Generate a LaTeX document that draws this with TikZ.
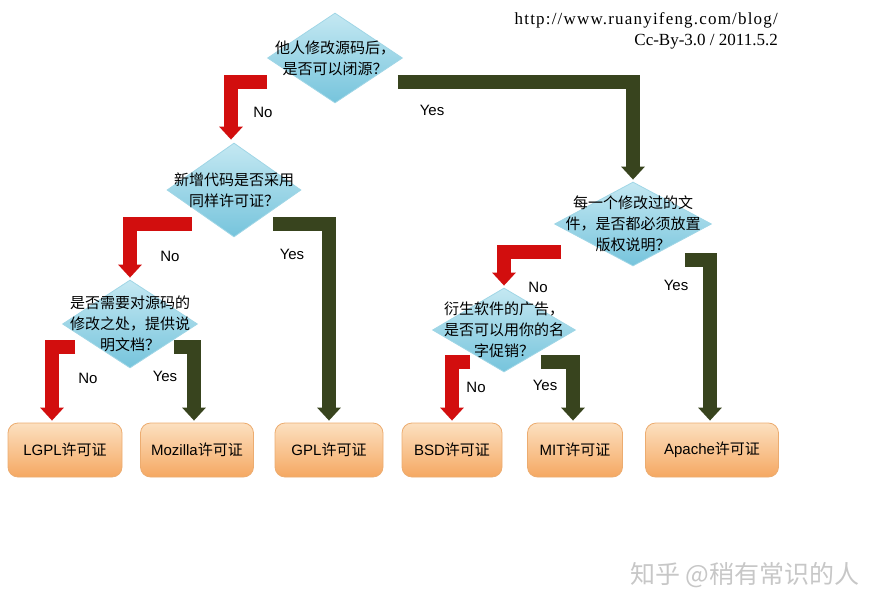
\documentclass[tikz,border=0pt]{standalone}
\usepackage{fontspec}
\setmainfont{Liberation Sans}
\newfontfamily\cjk{Noto Sans CJK SC}
\newfontfamily\urlfont{Liberation Serif}
\newfontfamily\urlwide[LetterSpace=7]{Liberation Serif}
\usetikzlibrary{arrows.meta,shapes.geometric}

\definecolor{nored}{RGB}{210,14,14}
\definecolor{yesgreen}{RGB}{56,68,30}
\definecolor{qtop}{RGB}{196,232,242}
\definecolor{qbottom}{RGB}{118,196,220}
\definecolor{qborder}{RGB}{160,214,230}
\definecolor{ltop}{RGB}{252,224,192}
\definecolor{lbottom}{RGB}{245,168,98}
\definecolor{lborder}{RGB}{236,172,112}

\begin{document}
\begin{tikzpicture}[x=1pt,y=-1pt,
  question/.style={diamond, draw=qborder, line width=0.8pt, top color=qtop, bottom color=qbottom, inner sep=0pt},
  qtext/.style={align=center, font=\cjk\fontsize{15}{21}\selectfont},
  licence/.style={rounded corners=10pt, draw=lborder, line width=0.8pt, top color=ltop, bottom color=lbottom, minimum height=54pt, font=\fontsize{15}{18}\selectfont},
  noarrow/.style={draw=nored, line width=14pt, line join=miter, -{Triangle[width=23pt,length=13pt]}},
  yesarrow/.style={noarrow, draw=yesgreen},
  answer/.style={font=\fontsize{15}{17}\selectfont}]
\useasboundingbox (0,0) rectangle (890,612);
% Source line
  \node[anchor=east, inner sep=0pt, font=\urlwide\fontsize{17}{20}\selectfont] (url) at (778,20) {http://www.ruanyifeng.com/blog/};
  \node[anchor=east, inner sep=0pt, font=\urlfont\fontsize{17}{20}\selectfont] (date) at (778,42) {Cc-By-3.0 / 2011.5.2};
% Questions
  \node[question, minimum width=135pt, minimum height=90pt, label={[qtext]center:{他人修改源码后，\\是否可以闭源？}}] (d1) at (335,58) {};
  \node[question, minimum width=134pt, minimum height=94pt, label={[qtext]center:{新增代码是否采用\\同样许可证？}}] (d2) at (234,190) {};
  \node[question, minimum width=157pt, minimum height=84pt, label={[qtext]center:{每一个修改过的文\\件，是否都必须放置\\版权说明？}}] (d3) at (633,224) {};
  \node[question, minimum width=135pt, minimum height=88pt, label={[qtext]center:{是否需要对源码的\\修改之处，提供说\\明文档？}}] (d4) at (130,324) {};
  \node[question, minimum width=143pt, minimum height=84pt, label={[qtext]center:{衍生软件的广告，\\是否可以用你的名\\字促销？}}] (d5) at (504,330) {};
% Licences
  \node[licence, minimum width=114pt] (lgpl) at (65,450) {LGPL{\cjk 许可证}};
  \node[licence, minimum width=113pt] (mozilla) at (197,450) {Mozilla{\cjk 许可证}};
  \node[licence, minimum width=108pt] (gpl) at (329,450) {GPL{\cjk 许可证}};
  \node[licence, minimum width=100pt] (bsd) at (452,450) {BSD{\cjk 许可证}};
  \node[licence, minimum width=95pt] (mit) at (575,450) {MIT{\cjk 许可证}};
  \node[licence, minimum width=133pt] (apache) at (712,450) {Apache{\cjk 许可证}};
% Answers
  \draw[noarrow] ([yshift=-24pt]d1.west) -| ([xshift=-3pt,yshift=3pt]d2.north);
  \draw[yesarrow] ([xshift=-5pt,yshift=-24pt]d1.east) -| ([yshift=2pt]d3.north);
  \draw[noarrow] ([xshift=25pt,yshift=-34pt]d2.west) -| ([yshift=2pt]d4.north);
  \draw[yesarrow] ([xshift=-28pt,yshift=-34pt]d2.east) -| ([yshift=2pt]gpl.north);
  \draw[noarrow] ([xshift=7pt,yshift=-28pt]d3.west) -| ([yshift=2pt]d5.north);
  \draw[yesarrow] ([xshift=-27pt,yshift=-36pt]d3.east) -| ([xshift=-2pt,yshift=2pt]apache.north);
  \draw[noarrow] ([xshift=13pt,yshift=-23pt]d4.west) -| ([xshift=-13pt,yshift=2pt]lgpl.north);
  \draw[yesarrow] ([xshift=-24pt,yshift=-23pt]d4.east) -| ([xshift=-3pt,yshift=2pt]mozilla.north);
  \draw[noarrow] ([xshift=38pt,yshift=-32pt]d5.west) -| ([yshift=2pt]bsd.north);
  \draw[yesarrow] ([xshift=-35pt,yshift=-32pt]d5.east) -| ([xshift=-2pt,yshift=2pt]mit.north);
% Labels
  \node[answer] (n1) at (263,112) {No};
  \node[answer] (y1) at (432,110) {Yes};
  \node[answer] (n2) at (170,256) {No};
  \node[answer] (y2) at (292,254) {Yes};
  \node[answer] (n3) at (538,287) {No};
  \node[answer] (y3) at (676,285) {Yes};
  \node[answer] (n4) at (88,378) {No};
  \node[answer] (y4) at (165,376) {Yes};
  \node[answer] (n5) at (476,387) {No};
  \node[answer] (y5) at (545,385) {Yes};
% Watermark
  \node[font=\cjk\fontsize{25}{28}\selectfont, text=black!22] (mark) at (745,575) {知乎 @稍有常识的人};
\end{tikzpicture}
\end{document}
